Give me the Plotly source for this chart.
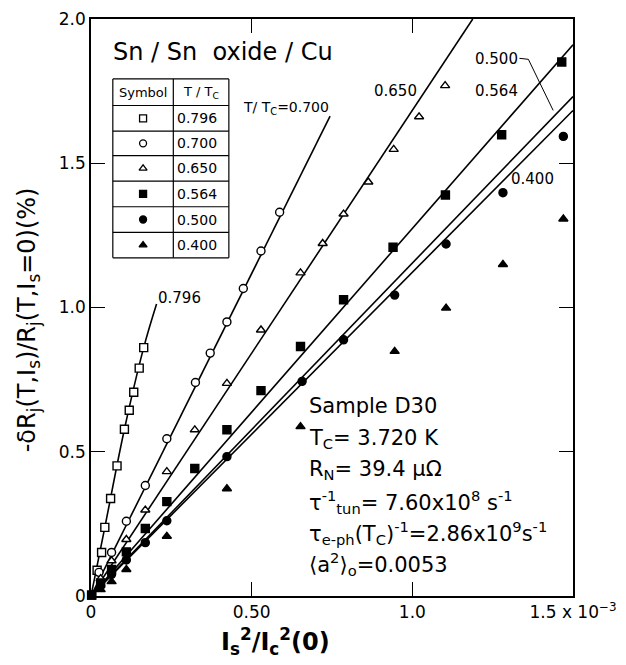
import plotly.graph_objects as go

# ---------------- data (x in units of 1e-3) ----------------
x796 = [0.002, 0.019, 0.033, 0.043, 0.061, 0.081, 0.104, 0.119, 0.133, 0.150, 0.164]
y796 = [0.003, 0.089, 0.151, 0.238, 0.338, 0.451, 0.578, 0.644, 0.706, 0.790, 0.861]

x700 = [0.025, 0.064, 0.110, 0.169, 0.236, 0.325, 0.371, 0.423, 0.474, 0.529, 0.587]
y700 = [0.082, 0.151, 0.259, 0.383, 0.545, 0.740, 0.842, 0.950, 1.066, 1.196, 1.330]

x650 = [0.030, 0.064, 0.110, 0.169, 0.236, 0.323, 0.423, 0.529, 0.652, 0.721, 0.786, 0.863, 0.942, 1.021, 1.102]
y650 = [0.060, 0.122, 0.196, 0.298, 0.431, 0.576, 0.737, 0.922, 1.120, 1.222, 1.324, 1.435, 1.548, 1.661, 1.769]

x564 = [0.002, 0.030, 0.064, 0.110, 0.169, 0.236, 0.323, 0.423, 0.529, 0.652, 0.786, 0.940, 1.103, 1.278, 1.465]
y564 = [0.003, 0.045, 0.092, 0.153, 0.234, 0.327, 0.442, 0.576, 0.712, 0.865, 1.027, 1.209, 1.390, 1.599, 1.851]

x500 = [0.030, 0.064, 0.110, 0.169, 0.236, 0.423, 0.657, 0.786, 0.945, 1.105, 1.282, 1.470]
y500 = [0.035, 0.075, 0.125, 0.185, 0.261, 0.483, 0.744, 0.888, 1.043, 1.220, 1.398, 1.593]

x400 = [0.030, 0.064, 0.110, 0.236, 0.423, 0.652, 0.945, 1.105, 1.282, 1.470]
y400 = [0.022, 0.050, 0.092, 0.207, 0.372, 0.587, 0.848, 0.998, 1.149, 1.307]

# fitted lines
fit796_x = [0.0, 0.043, 0.104, 0.164, 0.204]
fit796_y = [0.0, 0.238, 0.578, 0.861, 1.012]
fit_labels = ["0.700", "0.650", "0.564", "0.500", "0.400"]
fit_x_end = [0.744, 1.188, 1.5, 1.5, 1.5]
fit_y_end = [1.663, 2.0, 1.911, 1.731, 1.683]

table_vals = ["0.796", "0.700", "0.650", "0.564", "0.500", "0.400"]
table_syms = ["square-open", "circle-open", "triangle-up-open", "square", "circle", "triangle-up"]

xtick_vals = [0, 0.5, 1.0, 1.5]
xtick_text = ["0", "0.50", "1.0", "1.5 x 10<sup>\u22123</sup>"]
ytick_vals = [0, 0.5, 1.0, 1.5, 2.0]
ytick_text = ["0", "0.5", "1.0", "1.5", "2.0"]

# ---------------- layout geometry (pixels) ----------------
W, H = 626, 665
L, R, T, B = 91, 49, 9, 69
PW, PH = W - L - R, H - T - B
XMAX, YMAX = 1.5, 2.0


def dx(px):  # pixel -> data x
    return (px - L) / PW * XMAX


def dy(py):  # pixel -> data y
    return (H - B - py) / PH * YMAX


FONT = "DejaVu Sans"
fig = go.Figure()

series = [
    (x796, y796, "square-open"),
    (x700, y700, "circle-open"),
    (x650, y650, "triangle-up-open"),
    (x564, y564, "square"),
    (x500, y500, "circle"),
    (x400, y400, "triangle-up"),
]

# lines
fig.add_trace(go.Scatter(x=fit796_x, y=fit796_y, mode="lines", line=dict(color="black", width=1.6, shape="spline"),
                         showlegend=False, hoverinfo="skip"))
for xe, ye in zip(fit_x_end, fit_y_end):
    fig.add_trace(go.Scatter(x=[0, xe], y=[0, ye], mode="lines", line=dict(color="black", width=1.6),
                             showlegend=False, hoverinfo="skip"))

for xs, ys, sym in series:
    is_open = "open" in sym
    base = sym.replace("-open", "")
    fig.add_trace(go.Scatter(x=xs, y=ys, mode="markers",
                             marker=dict(symbol=base, size=8,
                                         color="white" if is_open else "black",
                                         line=dict(color="black", width=1.4)),
                             cliponaxis=False, showlegend=False))

# ---------------- table ----------------
tx = [113, 174, 230]
ty = [70, 97, 123, 148, 174, 200, 226, 252]
shapes = []
for xx in tx:
    shapes.append(dict(type="line", xref="x", yref="y", x0=dx(xx), x1=dx(xx), y0=dy(ty[0]), y1=dy(ty[-1]),
                       line=dict(color="black", width=1.2)))
for yy in ty:
    shapes.append(dict(type="line", xref="x", yref="y", x0=dx(tx[0]), x1=dx(tx[-1]), y0=dy(yy), y1=dy(yy),
                       line=dict(color="black", width=1.2)))

annotations = []
annotations.append(dict(x=dx((tx[0] + tx[1]) / 2), y=dy((ty[0] + ty[1]) / 2), text="Symbol", showarrow=False,
                        font=dict(family=FONT, size=13, color="black")))
annotations.append(dict(x=dx((tx[1] + tx[2]) / 2), y=dy((ty[0] + ty[1]) / 2), text="T / T<sub>C</sub>",
                        showarrow=False, font=dict(family=FONT, size=13, color="black")))
mx, my = [], []
for i, v in enumerate(table_vals):
    cy = (ty[i + 1] + ty[i + 2]) / 2
    annotations.append(dict(x=dx(tx[1] + 2), y=dy(cy), text=v, showarrow=False, xanchor="left",
                            font=dict(family=FONT, size=14, color="black")))
    mx.append(dx((tx[0] + tx[1]) / 2))
    my.append(dy(cy))
fig.add_trace(go.Scatter(x=mx, y=my, mode="markers",
                         marker=dict(symbol=[s.replace("-open", "") for s in table_syms], size=7,
                                     color=["white" if "open" in s else "black" for s in table_syms],
                                     line=dict(color="black", width=1.3)),
                         showlegend=False, hoverinfo="skip"))

# ---------------- text ----------------
def txt(px, py, s, size, anchor="left", **kw):
    annotations.append(dict(x=dx(px), y=dy(py), text=s, showarrow=False, xanchor=anchor, yanchor="middle",
                            font=dict(family=FONT, size=size, color="black"), **kw))


txt(111, 43, "Sn / Sn  oxide / Cu", 24)
txt(242, 100, "T/ T<sub>C</sub>=0.700", 14)
txt(157, 293, "0.796", 15)
txt(374, 82, "0.650", 15)
txt(476, 50, "0.500", 15)
txt(476, 82, "0.564", 15)
txt(512, 172, "0.400", 15)

# leader for 0.500
shapes.append(dict(type="path", xref="x", yref="y",
                   path=f"M {dx(523)},{dy(49)} L {dx(532)},{dy(50)} L {dx(557)},{dy(102)}",
                   line=dict(color="black", width=1)))

block = [
    (403, "Sample D30"),
    (436, "T<sub>C</sub>= 3.720 K"),
    (468, "R<sub>N</sub>= 39.4 \u03bc\u03a9"),
    (500, "\u03c4<sup>-1</sup><sub>tun</sub>= 7.60x10<sup>8</sup> s<sup>-1</sup>"),
    (532, "\u03c4<sub>e-ph</sub>(T<sub>C</sub>)<sup>-1</sup>=2.86x10<sup>9</sup>s<sup>-1</sup>"),
    (563, "\u27e8a<sup>2</sup>\u27e9<sub>o</sub>=0.0053"),
]
for py, s in block:
    txt(309, py, s, 21)

# axis titles
annotations.append(dict(xref="paper", yref="paper", x=(277 - L) / PW, y=(H - B - 642) / PH,
                        text="<b>I<sub>s</sub><sup>2</sup>/I<sub>c</sub><sup>2</sup>(0)</b>", showarrow=False,
                        xanchor="center", yanchor="middle", font=dict(family=FONT, size=24, color="black")))
annotations.append(dict(xref="paper", yref="paper", x=(28 - L) / PW, y=(H - B - 315) / PH,
                        text="-\u03b4R<sub>j</sub>(T,I<sub>s</sub>)/R<sub>j</sub>(T,I<sub>s</sub>=0)(%)",
                        showarrow=False, textangle=-90, xanchor="center", yanchor="middle",
                        font=dict(family=FONT, size=24, color="black")))

axis_common = dict(showgrid=False, zeroline=False, showline=True, linecolor="black", linewidth=1.6,
                   ticks="inside", ticklen=14, tickwidth=1.4, tickcolor="black", mirror="ticks",
                   tickfont=dict(family=FONT, size=17, color="black"))

fig.update_layout(
    width=W, height=H,
    margin=dict(l=L, r=R, t=T, b=B),
    paper_bgcolor="white", plot_bgcolor="white",
    xaxis=dict(range=[0, XMAX], tickvals=xtick_vals, ticktext=xtick_text, **axis_common),
    yaxis=dict(range=[0, YMAX], tickvals=ytick_vals, ticktext=ytick_text, **axis_common),
    shapes=shapes, annotations=annotations,
)

fig.write_html("out.html")
